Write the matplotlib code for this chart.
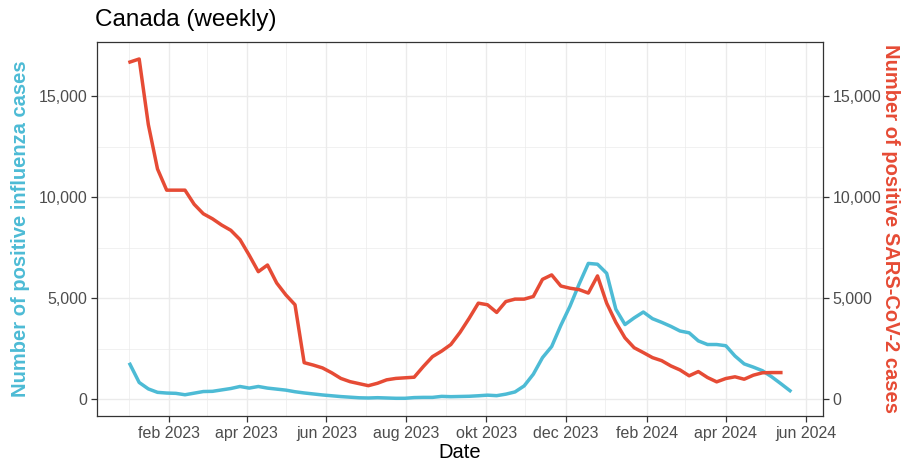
import datetime as dt
import matplotlib
matplotlib.use("Agg")
import matplotlib.pyplot as plt
import matplotlib.dates as mdates
import numpy as np
import pandas as pd

plt.rcParams['font.family'] = ['Liberation Sans', 'DejaVu Sans']

# Weekly series
start_date = "2023-01-02"

flu_cases = [1720, 820, 500, 330, 295, 280, 210, 290, 370, 380,
             450, 520, 620, 540, 620, 540, 490, 440, 360, 300,
             250, 200, 160, 120, 90, 60, 50, 65, 50, 35,
             35, 70, 80, 80, 130, 115, 125, 135, 160, 190,
             165, 240, 350, 650, 1230, 2050, 2600, 3650, 4600, 5700,
             6720, 6680, 6230, 4450, 3690, 4020, 4310, 3980, 3800, 3600,
             3370, 3280, 2880, 2700, 2700, 2640, 2130, 1740, 1580, 1400,
             1100, 760, 410]

sars_cases = [16700, 16850, 13600, 11400, 10350, 10350, 10350, 9650, 9180, 8930,
              8620, 8360, 7900, 7130, 6310, 6640, 5750, 5160, 4670, 1800,
              1680, 1540, 1300, 1020, 860, 760, 660, 780, 950, 1020,
              1050, 1080, 1610, 2100, 2375, 2700, 3300, 4000, 4750, 4670,
              4290, 4830, 4950, 4950, 5080, 5930, 6150, 5600, 5490, 5420,
              5250, 6100, 4750, 3800, 3030, 2540, 2300, 2050, 1900, 1640,
              1440, 1150, 1360, 1065, 850, 1015, 1100, 980, 1180, 1300,
              1310, 1310]

x_breaks = ["2023-02-01", "2023-04-01", "2023-06-01", "2023-08-01", "2023-10-01",
            "2023-12-01", "2024-02-01", "2024-04-01", "2024-06-01"]
x_labels = ["feb 2023", "apr 2023", "jun 2023", "aug 2023", "okt 2023",
            "dec 2023", "feb 2024", "apr 2024", "jun 2024"]
x_minor = ["2023-01-01", "2023-03-02", "2023-05-01", "2023-07-01", "2023-08-31",
           "2023-10-31", "2023-12-31", "2024-03-01", "2024-05-01"]
y_breaks = [0, 5000, 10000, 15000]
y_minor = [2500, 7500, 12500]

flu_col = "#4DBBD5"
sars_col = "#E64B35"

flu_dates = pd.date_range(start_date, periods=len(flu_cases), freq="7D")
sars_dates = pd.date_range(start_date, periods=len(sars_cases), freq="7D")

fig = plt.figure(figsize=(9.03, 4.66), dpi=100)
ax = fig.add_axes([97 / 903, 1 - 416 / 466, (823 - 97) / 903, (416 - 42) / 466])

ax.plot(flu_dates, flu_cases, color=flu_col, lw=2.5, zorder=3)
ax.plot(sars_dates, sars_cases, color=sars_col, lw=2.5, zorder=3)

ax.margins(x=0.05, y=0.05)
ax.set_ylim(-0.05 * max(sars_cases), 1.05 * max(sars_cases))

ax.set_xticks(pd.to_datetime(x_breaks))
ax.set_xticklabels(x_labels)
ax.set_xticks(pd.to_datetime(x_minor), minor=True)
ax.set_yticks(y_breaks)
ax.set_yticklabels([f"{v:,}" for v in y_breaks])
ax.set_yticks(y_minor, minor=True)

ax.grid(which="major", color="#EBEBEB", lw=1.0, zorder=0)
ax.grid(which="minor", color="#EBEBEB", lw=0.5, zorder=0)
ax.set_axisbelow(True)
for s in ax.spines.values():
    s.set_color("#333333")
    s.set_linewidth(0.9)

ax.tick_params(which="major", length=4, width=0.9, color="#333333",
               labelsize=11.5, labelcolor="#4D4D4D", pad=3)
ax.tick_params(which="minor", length=0)

ax2 = ax.twinx()
ax2.set_ylim(ax.get_ylim())
ax2.set_yticks(y_breaks)
ax2.set_yticklabels([f"{v:,}" for v in y_breaks])
ax2.tick_params(length=4, width=0.9, color="#333333",
                labelsize=11.5, labelcolor="#4D4D4D", pad=3)
for s in ax2.spines.values():
    s.set_visible(False)

ax.set_xlabel("Date", fontsize=14.5, labelpad=2)
ax.set_ylabel("Number of positive influenza cases", fontsize=14.5,
              color=flu_col, fontweight="bold", labelpad=6)
ax2.set_ylabel("Number of positive SARS-CoV-2 cases", fontsize=14.5,
               color=sars_col, fontweight="bold", rotation=-90, labelpad=13)

fig.text(95 / 903, 1 - 20 / 466, "Canada (weekly)", fontsize=17.5, va="center", ha="left")

fig.savefig("out.png", dpi=100)
